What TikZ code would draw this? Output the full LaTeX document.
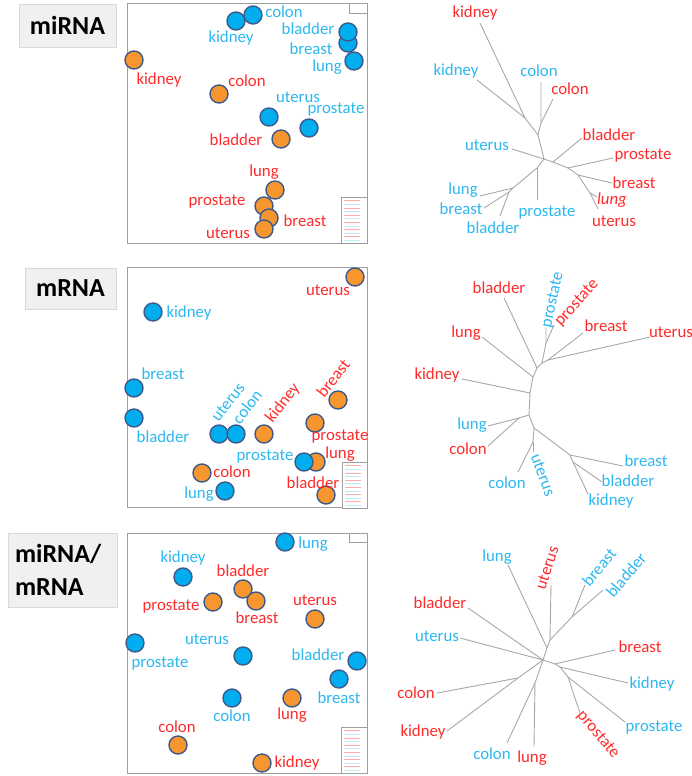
\documentclass[tikz,border=0pt]{standalone}
\usepackage{fontspec}
\setmainfont{Carlito}
\definecolor{dotblue}{HTML}{00AEEF}
\definecolor{dotorange}{HTML}{F7962E}
\definecolor{dotrim}{HTML}{3E5A8A}
\definecolor{txtblue}{HTML}{2DB8F0}
\definecolor{txtred}{HTML}{FF2B2B}
\definecolor{branch}{HTML}{A8A8A8}
\begin{document}
\begin{tikzpicture}[x=1pt,y=1pt]
\tikzstyle{every node}+=[inner sep=0pt, font=\fontsize{16.8}{18}\selectfont]
\tikzstyle{bdot}=[circle, draw=dotrim, line width=1.4pt, fill=dotblue, minimum size=18pt]
\tikzstyle{odot}=[bdot, fill=dotorange]
\tikzstyle{bl}=[text=txtblue]
\tikzstyle{rd}=[text=txtred]
\tikzstyle{frame}=[draw=gray!75, line width=0.8pt]
\tikzstyle{titlebox}=[draw=gray!30, fill=gray!12, font=\fontsize{26}{28}\bfseries\selectfont]
\tikzstyle{edge}=[draw=branch, line width=0.9pt]
\useasboundingbox [fill=white] (0,0) rectangle (692,-776);
% titles
\node [titlebox, minimum width=97pt, minimum height=43pt] (ttl1) at (67.5,-25.5) {miRNA};
\node [titlebox, minimum width=91pt, minimum height=41pt] (ttl2) at (70.5,-288.5) {mRNA};
\node [titlebox, minimum width=109pt, minimum height=74pt, align=left, text width=95pt,
  font=\fontsize{26}{33}\bfseries\selectfont] (ttl3) at (62.5,-570) {miRNA/\\mRNA};
% frames and keys
\draw [frame] (127,-3) rectangle (367,-243);
\draw [frame] (127,-267) rectangle (367,-507);
\draw [frame] (127,-533) rectangle (367,-773);
\draw [frame, line width=0.5pt] (349,-3) rectangle (367,-13);
\draw [frame, line width=0.5pt] (349,-533) rectangle (367,-542);
\foreach \lx/\ly in {341/-197, 342/-462, 341/-727} {
  \draw [frame, line width=0.5pt, fill=white] (\lx,\ly) rectangle (367,\ly-46);
  \foreach \i in {1,3,...,11}
    \draw [txtred!40, line width=0.6pt] (\lx+3,\ly-\i*3.6) -- (\lx+19,\ly-\i*3.6);
  \foreach \i in {2,4,...,12}
    \draw [txtblue!30, line width=0.6pt] (\lx+3,\ly-\i*3.6) -- (\lx+19,\ly-\i*3.6);
}
% miRNA map
\node [bdot] (k1b) at (236,-21) {};
\node [bdot] (c1b) at (253,-15) {};
\node [bdot] (br1b) at (348,-43) {};
\node [bdot] (bl1b) at (348,-32) {};
\node [bdot] (lu1b) at (354,-61) {};
\node [bdot] (ut1b) at (269,-117) {};
\node [bdot] (pr1b) at (309,-128) {};
\node [odot] (k1o) at (134,-60) {};
\node [odot] (c1o) at (219,-94) {};
\node [odot] (bl1o) at (281,-139) {};
\node [odot] (lu1o) at (275,-190) {};
\node [odot] (pr1o) at (264,-206) {};
\node [odot] (br1o) at (269,-218) {};
\node [odot] (ut1o) at (264,-229) {};
\node [bl] (k1bt) at (231,-38) {kidney};
\node [bl] (c1bt) at (284,-12) {colon};
\node [bl] (bl1bt) at (308,-29) {bladder};
\node [bl] (br1bt) at (311,-49) {breast};
\node [bl] (lu1bt) at (327,-67) {lung};
\node [bl] (ut1bt) at (298,-97) {uterus};
\node [bl] (pr1bt) at (336,-110) {prostate};
\node [rd] (k1ot) at (159,-80) {kidney};
\node [rd] (c1ot) at (247,-81) {colon};
\node [rd] (bl1ot) at (236,-140) {bladder};
\node [rd] (lu1ot) at (264,-172) {lung};
\node [rd] (pr1ot) at (217,-202) {prostate};
\node [rd] (br1ot) at (305,-221) {breast};
\node [rd] (ut1ot) at (228,-233) {uterus};
% miRNA tree
\coordinate (t1r) at (544,-159);
\coordinate (t1a) at (538,-135);
\coordinate (t1k) at (525,-118);
\coordinate (t1c) at (541,-123);
\coordinate (t1kre) at (480,-23);
\coordinate (t1kbe) at (477,-80);
\coordinate (t1cbe) at (541,-82);
\coordinate (t1cre) at (553,-99);
\coordinate (t1ube) at (512,-149);
\coordinate (t1p) at (537,-168);
\coordinate (t1l) at (513,-188);
\coordinate (t1b) at (509,-192);
\coordinate (t1pbe) at (537,-200);
\coordinate (t1lbe) at (480,-196);
\coordinate (t1bbe) at (484,-208);
\coordinate (t1dbe) at (500,-216);
\coordinate (t1q1) at (553,-162);
\coordinate (t1q2) at (568,-168);
\coordinate (t1q3) at (578,-175);
\coordinate (t1q4) at (590,-193);
\coordinate (t1dre) at (582,-138);
\coordinate (t1pre) at (613,-158);
\coordinate (t1bre) at (612,-183);
\coordinate (t1lre) at (597,-197);
\coordinate (t1ure) at (598,-209);
\draw [edge] (t1r) -- (t1a) -- (t1k) -- (t1kre);
\draw [edge] (t1k) -- (t1kbe);
\draw [edge] (t1a) -- (t1c) -- (t1cbe);
\draw [edge] (t1c) -- (t1cre);
\draw [edge] (t1r) -- (t1ube);
\draw [edge] (t1r) -- (t1p) -- (t1l) -- (t1lbe);
\draw [edge] (t1l) -- (t1b) -- (t1bbe);
\draw [edge] (t1b) -- (t1dbe);
\draw [edge] (t1p) -- (t1pbe);
\draw [edge] (t1r) -- (t1q1) -- (t1q2) -- (t1q3) -- (t1q4) -- (t1ure);
\draw [edge] (t1q1) -- (t1dre);
\draw [edge] (t1q2) -- (t1pre);
\draw [edge] (t1q3) -- (t1bre);
\draw [edge] (t1q4) -- (t1lre);
\node [rd] (t1krt) at (475,-13) {kidney};
\node [bl] (t1kbt) at (456,-71) {kidney};
\node [bl] (t1cbt) at (539,-71) {colon};
\node [rd] (t1crt) at (570,-89) {colon};
\node [rd] (t1drt) at (609,-135) {bladder};
\node [rd] (t1prt) at (643,-156) {prostate};
\node [rd] (t1brt) at (634,-183) {breast};
\node [rd, font=\fontsize{16.8}{18}\itshape\selectfont] (t1lrt) at (612,-200) {lung};
\node [rd] (t1urt) at (614,-221) {uterus};
\node [bl] (t1ubt) at (487,-145) {uterus};
\node [bl] (t1lbt) at (463,-190) {lung};
\node [bl] (t1bbt) at (461,-209) {breast};
\node [bl] (t1dbt) at (493,-228) {bladder};
\node [bl] (t1pbt) at (547,-213) {prostate};
% mRNA map
\node [odot] (ut2o) at (355,-277) {};
\node [bdot] (k2b) at (153,-312) {};
\node [bdot] (br2b) at (134,-388) {};
\node [bdot] (bl2b) at (134,-418) {};
\node [bdot] (ut2b) at (219,-434) {};
\node [bdot] (c2b) at (236,-434) {};
\node [odot] (k2o) at (264,-434) {};
\node [odot] (br2o) at (338,-400) {};
\node [odot] (pr2o) at (315,-423) {};
\node [odot] (lu2o) at (316,-462) {};
\node [bdot] (pr2b) at (304,-462) {};
\node [odot] (c2o) at (202,-473) {};
\node [bdot] (lu2b) at (225,-491) {};
\node [odot] (bl2o) at (326,-495) {};
\node [rd] (ut2ot) at (328,-290) {uterus};
\node [bl] (k2bt) at (189,-313) {kidney};
\node [bl] (br2bt) at (163,-374) {breast};
\node [bl] (bl2bt) at (163,-437) {bladder};
\node [bl, rotate=52] (ut2bt) at (228,-402) {uterus};
\node [bl, rotate=52] (c2bt) at (247,-407) {colon};
\node [rd, rotate=52] (k2ot) at (283,-403) {kidney};
\node [rd, rotate=52] (br2ot) at (333,-378) {breast};
\node [rd] (pr2ot) at (340,-437) {prostate};
\node [rd] (lu2ot) at (340,-454) {lung};
\node [bl] (pr2bt) at (265,-457) {prostate};
\node [rd] (c2ot) at (232,-472) {colon};
\node [bl] (lu2bt) at (199,-494) {lung};
\node [rd] (bl2ot) at (313,-483) {bladder};
% mRNA tree
\coordinate (t2a) at (548,-360);
\coordinate (t2b) at (542,-363);
\coordinate (t2p) at (546,-343);
\coordinate (t2c) at (537,-368);
\coordinate (t2d) at (533,-377);
\coordinate (t2e) at (530,-393);
\coordinate (t2f) at (529,-415);
\coordinate (t2f2) at (519,-418);
\coordinate (t2g) at (534,-428);
\coordinate (t2g2) at (533,-442);
\coordinate (t2h) at (570,-455);
\coordinate (t2h2) at (573,-462);
\coordinate (t2bre) at (583,-333);
\coordinate (t2ure) at (650,-337);
\coordinate (t2pbe) at (546,-328);
\coordinate (t2pre) at (554,-325);
\coordinate (t2dre) at (504,-298);
\coordinate (t2lre) at (482,-337);
\coordinate (t2kre) at (462,-379);
\coordinate (t2lbe) at (488,-426);
\coordinate (t2cre) at (488,-446);
\coordinate (t2cbe) at (518,-472);
\coordinate (t2ube) at (533,-452);
\coordinate (t2bbe) at (623,-466);
\coordinate (t2dbe) at (602,-482);
\coordinate (t2kbe) at (588,-494);
\draw [edge] (t2a) -- (t2b) -- (t2c) -- (t2d) -- (t2e) -- (t2f) -- (t2g) -- (t2h) -- (t2h2) -- (t2kbe);
\draw [edge] (t2a) -- (t2bre);
\draw [edge] (t2a) -- (t2ure);
\draw [edge] (t2b) -- (t2p) -- (t2pbe);
\draw [edge] (t2p) -- (t2pre);
\draw [edge] (t2c) -- (t2dre);
\draw [edge] (t2d) -- (t2lre);
\draw [edge] (t2e) -- (t2kre);
\draw [edge] (t2f) -- (t2f2) -- (t2lbe);
\draw [edge] (t2f2) -- (t2cre);
\draw [edge] (t2g) -- (t2g2) -- (t2cbe);
\draw [edge] (t2g2) -- (t2ube);
\draw [edge] (t2h) -- (t2bbe);
\draw [edge] (t2h2) -- (t2dbe);
\node [rd] (t2drt) at (499,-288) {bladder};
\node [bl, rotate=78] (t2pbt) at (553,-300) {prostate};
\node [rd, rotate=48] (t2prt) at (577,-303) {prostate};
\node [rd] (t2brt) at (606,-326) {breast};
\node [rd] (t2urt) at (671,-332) {uterus};
\node [rd] (t2lrt) at (466,-333) {lung};
\node [rd] (t2krt) at (437,-375) {kidney};
\node [bl] (t2lbt) at (472,-425) {lung};
\node [rd] (t2crt) at (468,-449) {colon};
\node [bl] (t2cbt) at (507,-483) {colon};
\node [bl, rotate=-70] (t2ubt) at (543,-475) {uterus};
\node [bl] (t2bbt) at (646,-461) {breast};
\node [bl] (t2dbt) at (628,-481) {bladder};
\node [bl] (t2kbt) at (611,-501) {kidney};
% miRNA/mRNA map
\node [bdot] (lu3b) at (285,-542) {};
\node [bdot] (k3b) at (183,-577) {};
\node [odot] (bl3o) at (243,-589) {};
\node [odot] (br3o) at (256,-601) {};
\node [odot] (pr3o) at (213,-602) {};
\node [odot] (ut3o) at (315,-619) {};
\node [bdot] (pr3b) at (135,-643) {};
\node [bdot] (ut3b) at (243,-656) {};
\node [bdot] (bl3b) at (357,-661) {};
\node [bdot] (br3b) at (339,-679) {};
\node [bdot] (c3b) at (232,-698) {};
\node [odot] (lu3o) at (292,-698) {};
\node [odot] (c3o) at (178,-745) {};
\node [odot] (k3o) at (262,-763) {};
\node [bl] (lu3bt) at (313,-544) {lung};
\node [bl] (k3bt) at (183,-558) {kidney};
\node [rd] (bl3ot) at (243,-571) {bladder};
\node [rd] (br3ot) at (257,-618) {breast};
\node [rd] (pr3ot) at (171,-607) {prostate};
\node [rd] (ut3ot) at (315,-600) {uterus};
\node [bl] (pr3bt) at (160,-664) {prostate};
\node [bl] (ut3bt) at (207,-639) {uterus};
\node [bl] (bl3bt) at (318,-655) {bladder};
\node [bl] (br3bt) at (339,-698) {breast};
\node [bl] (c3bt) at (232,-716) {colon};
\node [rd] (lu3ot) at (292,-715) {lung};
\node [rd] (c3ot) at (177,-727) {colon};
\node [rd] (k3ot) at (297,-763) {kidney};
% miRNA/mRNA tree
\coordinate (t3r) at (543,-660);
\coordinate (t3u) at (547,-648);
\coordinate (t3u2) at (550,-640);
\coordinate (t3u3) at (572,-617);
\coordinate (t3s) at (555,-664);
\coordinate (t3s2) at (560,-667);
\coordinate (t3s3) at (568,-677);
\coordinate (t3k) at (518,-678);
\coordinate (t3d) at (535,-683);
\coordinate (t3lbe) at (508,-565);
\coordinate (t3ure) at (551,-585);
\coordinate (t3bbe) at (585,-585);
\coordinate (t3dbe) at (603,-590);
\coordinate (t3dre) at (468,-608);
\coordinate (t3ube) at (460,-638);
\coordinate (t3bre) at (615,-650);
\coordinate (t3kbe) at (628,-683);
\coordinate (t3pbe) at (625,-722);
\coordinate (t3pre) at (580,-713);
\coordinate (t3cre) at (437,-693);
\coordinate (t3kre) at (447,-731);
\coordinate (t3cbe) at (507,-743);
\coordinate (t3lre) at (534,-746);
\draw [edge] (t3r) -- (t3u) -- (t3lbe);
\draw [edge] (t3u) -- (t3u2) -- (t3ure);
\draw [edge] (t3u2) -- (t3u3) -- (t3bbe);
\draw [edge] (t3u3) -- (t3dbe);
\draw [edge] (t3r) -- (t3dre);
\draw [edge] (t3r) -- (t3ube);
\draw [edge] (t3r) -- (t3s) -- (t3bre);
\draw [edge] (t3s) -- (t3s2) -- (t3kbe);
\draw [edge] (t3s2) -- (t3s3) -- (t3pbe);
\draw [edge] (t3s3) -- (t3pre);
\draw [edge] (t3r) -- (t3k) -- (t3kre);
\draw [edge] (t3k) -- (t3cre);
\draw [edge] (t3r) -- (t3d) -- (t3lre);
\draw [edge] (t3d) -- (t3cbe);
\node [bl] (t3lbt) at (497,-557) {lung};
\node [rd, rotate=72] (t3urt) at (547,-568) {uterus};
\node [bl, rotate=50] (t3bbt) at (599,-567) {breast};
\node [bl, rotate=50] (t3dbt) at (626,-575) {bladder};
\node [rd] (t3drt) at (440,-603) {bladder};
\node [bl] (t3ubt) at (437,-636) {uterus};
\node [rd] (t3brt) at (640,-647) {breast};
\node [bl] (t3kbt) at (652,-684) {kidney};
\node [bl] (t3pbt) at (654,-728) {prostate};
\node [rd, rotate=-50] (t3prt) at (598,-735) {prostate};
\node [rd] (t3crt) at (416,-693) {colon};
\node [rd] (t3krt) at (423,-732) {kidney};
\node [bl] (t3cbt) at (492,-754) {colon};
\node [rd] (t3lrt) at (532,-758) {lung};
\end{tikzpicture}
\end{document}
